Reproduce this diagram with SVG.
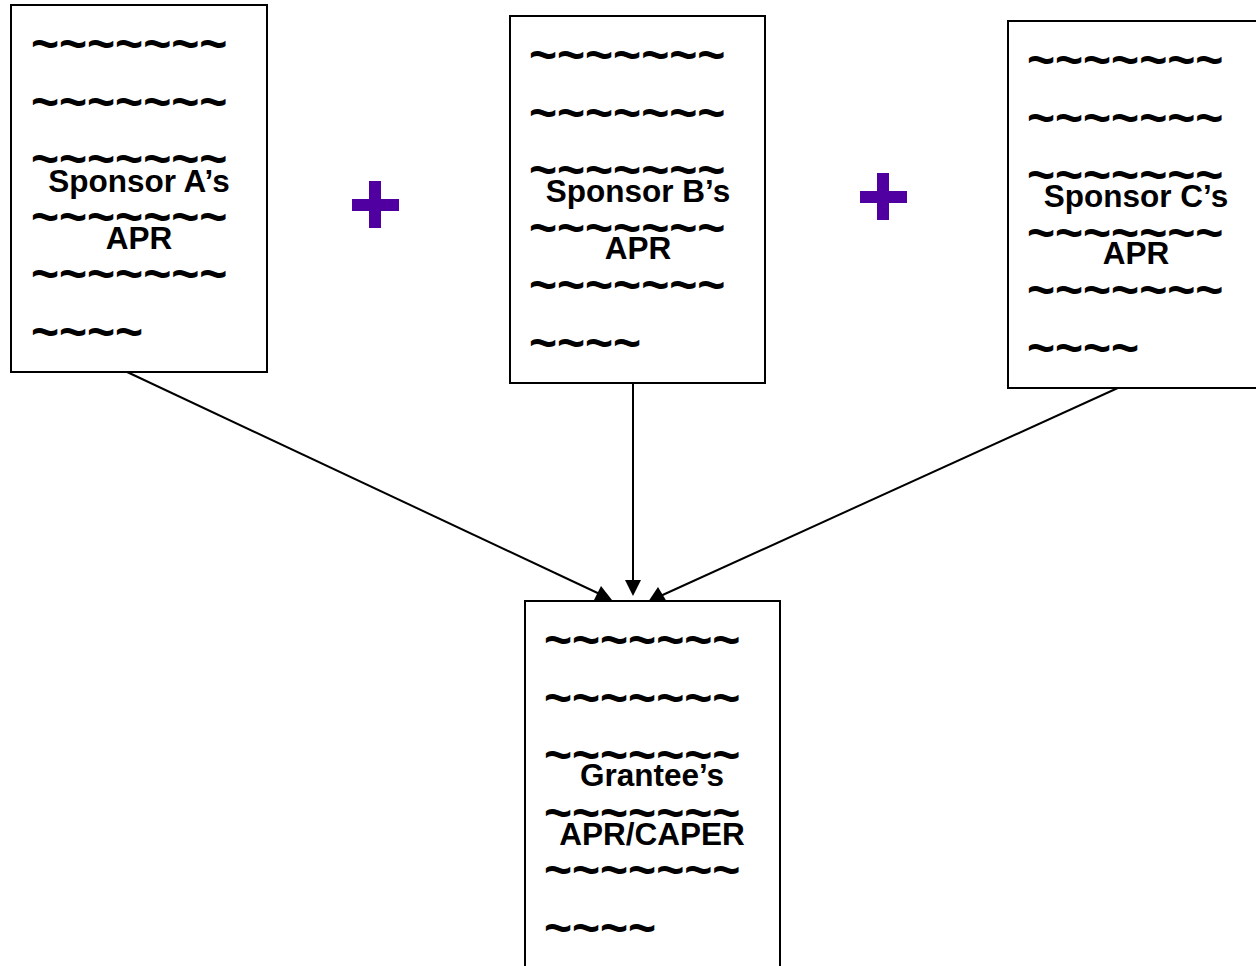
<svg xmlns="http://www.w3.org/2000/svg" width="1256" height="966" viewBox="0 0 1256 966">
<defs>
<style>
.box{fill:#fff;stroke:#000;stroke-width:2}
.t{font-family:"Liberation Sans",Arial,sans-serif;font-weight:bold;font-size:48px;fill:#000}
.l{font-family:"Liberation Sans",Arial,sans-serif;font-weight:bold;font-size:31.5px;fill:#000;text-anchor:middle}
.plus{fill:#5000A0}
.c{stroke:#000;stroke-width:2;fill:none}
.ah{fill:#000}
</style>
<g id="page">
<text class="t" x="0" y="0">~~~~~~~</text>
<text class="t" x="0" y="57.6">~~~~~~~</text>
<text class="t" x="0" y="115.2">~~~~~~~</text>
<text class="t" x="0" y="172.8">~~~~~~~</text>
<text class="t" x="0" y="230.4">~~~~~~~</text>
<text class="t" x="0" y="288">~~~~</text>
</g>
</defs>
<rect width="1256" height="966" fill="#fff"/>
<g id="connectors">
<line class="c" x1="125" y1="371" x2="604" y2="596"/>
<line class="c" x1="633" y1="383" x2="633" y2="584"/>
<line class="c" x1="1120" y1="387" x2="656" y2="598"/>
<path class="ah" d="M612,600 L594,600 L601,586 z"/>
<path class="ah" d="M633,596 L625,580 L641,580 z"/>
<path class="ah" d="M648,602 L667,602 L658,587 z"/>
</g>
<g id="sponsorA">
<rect class="box" x="11" y="5" width="256" height="367"/>
<use href="#page" x="31" y="60"/>
<text class="l" x="139" y="192">Sponsor A’s</text>
<text class="l" x="139" y="249">APR</text>
</g>
<g id="sponsorB">
<rect class="box" x="510" y="16" width="255" height="367"/>
<use href="#page" x="529" y="71"/>
<text class="l" x="638" y="202">Sponsor B’s</text>
<text class="l" x="638" y="259">APR</text>
</g>
<g id="sponsorC">
<rect class="box" x="1008" y="21" width="250" height="367"/>
<use href="#page" x="1027" y="76"/>
<text class="l" x="1136" y="207">Sponsor C’s</text>
<text class="l" x="1136" y="264">APR</text>
</g>
<g id="grantee">
<rect class="box" x="525" y="601" width="255" height="370"/>
<use href="#page" x="544" y="656"/>
<text class="l" x="652" y="786">Grantee’s</text>
<text class="l" x="652" y="845">APR/CAPER</text>
</g>
<g id="plus1">
<rect class="plus" x="352" y="199" width="47" height="12"/>
<rect class="plus" x="369" y="181" width="12" height="47"/>
</g>
<g id="plus2">
<rect class="plus" x="860" y="191" width="47" height="12"/>
<rect class="plus" x="877" y="173" width="12" height="47"/>
</g>
</svg>
